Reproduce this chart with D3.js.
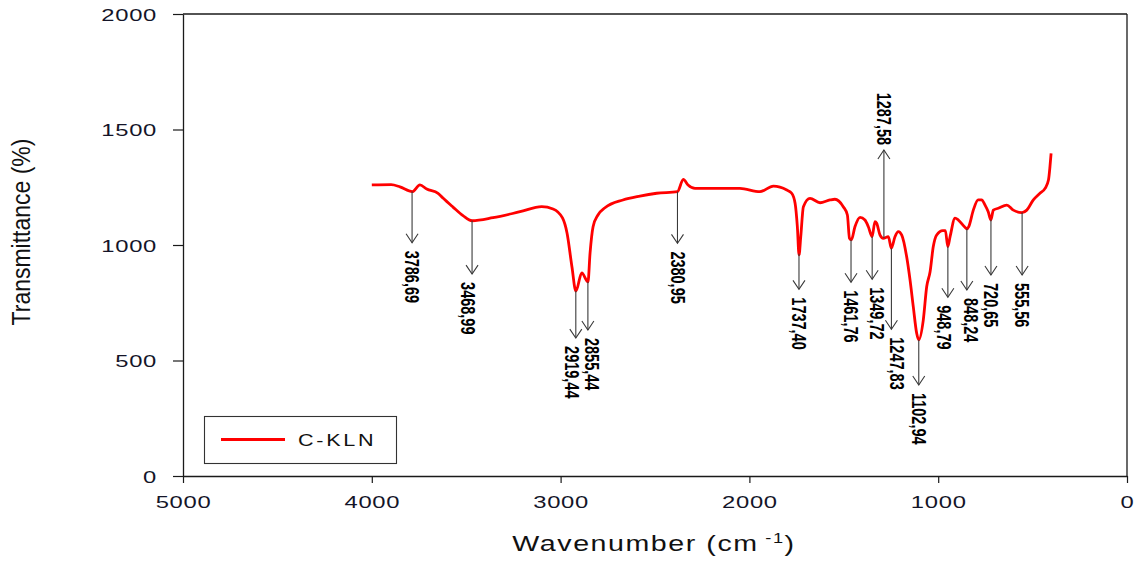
<!DOCTYPE html>
<html>
<head>
<meta charset="utf-8">
<script src="https://cdn.jsdelivr.net/npm/d3@7"></script>
<style>
  html, body { margin: 0; padding: 0; background: #fff; }
  svg { display: block; }
</style>
</head>
<body>
<svg id="chart" width="1144" height="563"></svg>
<script>
// FTIR spectrum of C-KLN: wavenumber (cm-1) and transmittance (%)
const wavenumbers = [
  4000, 3898, 3851, 3786, 3745, 3709, 3649, 3623, 3570, 3517, 3469, 3358, 3215, 3100,
  3040, 2990, 2966, 2940, 2919, 2888, 2855, 2844, 2828, 2802, 2765, 2670, 2580, 2491,
  2381, 2350, 2325, 2288, 2050, 1944, 1873, 1802, 1776, 1758, 1746, 1737, 1728, 1714,
  1679, 1626, 1573, 1547, 1503, 1481, 1470, 1460, 1441, 1414, 1388, 1370, 1350, 1335,
  1326, 1308, 1291, 1264, 1248, 1229, 1211, 1193, 1167, 1149, 1132, 1114, 1103, 1079,
  1061, 1043, 1026, 1008, 976, 962, 949, 937, 911, 893, 862, 848, 838, 814, 788, 770,
  752, 735, 721, 708, 682, 637, 602, 556, 531, 496, 461, 434, 416, 408, 402
];
const transmittance = [
  1260, 1261, 1252, 1231, 1260, 1242, 1224, 1203, 1164, 1127, 1105, 1118, 1144, 1166,
  1156, 1117, 1052, 906, 800, 879, 840, 965, 1079, 1130, 1161, 1195, 1212, 1224,
  1231, 1284, 1260, 1245, 1245, 1231, 1255, 1238, 1224, 1181, 1079, 957, 1036, 1166,
  1202, 1183, 1195, 1198, 1166, 1130, 1029, 1022, 1079, 1120, 1108, 1079, 1036, 1101,
  1094, 1043, 1029, 1036, 986, 1036, 1058, 1043, 949, 848, 733, 618, 589, 675,
  819, 884, 993, 1043, 1062, 1062, 993, 1036, 1116, 1108, 1080, 1070, 1080, 1151, 1195, 1195,
  1173, 1144, 1108, 1151, 1159, 1173, 1151, 1140, 1151, 1195, 1224, 1245, 1281, 1339, 1397
];

// Annotated absorption bands
const peakWavenumbers = [3786.69, 3468.99, 2919.44, 2855.44, 2380.95, 1737.40, 1461.76,
  1349.72, 1287.58, 1247.83, 1102.94, 948.79, 848.24, 720.65, 555.56];
const peakLabels = ["3786,69", "3468,99", "2919,44", "2855,44", "2380,95", "1737,40", "1461,76",
  "1349,72", "1287,58", "1247,83", "1102,94", "948,79", "848,24", "720,65", "555,56"];
// transmittance level at which each annotation arrow ends
const arrowTipValues = [1010, 874, 597, 632, 1007, 808, 839, 852, 1411, 635, 394, 774, 805, 870, 870];

const xTicks = [5000, 4000, 3000, 2000, 1000, 0];
const yTicks = [0, 500, 1000, 1500, 2000];
const seriesName = "C-KLN";

// ---- layout ----
const plot = { left: 183, right: 1127, top: 14, bottom: 476 };
// small sideways nudges that keep neighbouring labels apart
const labelShiftX = { 1: -4, 2: -4, 3: 4, 7: 5, 9: 5, 11: -4, 12: 4 };
const FONT = "'Liberation Sans', Arial, Helvetica, sans-serif";
const TEXT_STRETCH = 1.4;

const svg = d3.select("#chart");

const x = d3.scaleLinear().domain([5000, 0]).range([plot.left, plot.right]);
const y = d3.scaleLinear().domain([0, 2000]).range([plot.bottom, plot.top]);

// ---- axes ----
const axisColor = "#1a1a1a";

const yAxis = svg.append("g")
  .attr("transform", `translate(${plot.left},0)`)
  .call(d3.axisLeft(y).tickValues(yTicks).tickSize(10).tickSizeOuter(0).tickFormat(d3.format("d")));
yAxis.select(".domain").attr("stroke", axisColor).attr("stroke-width", 1.3);
yAxis.selectAll(".tick line").attr("stroke", axisColor).attr("stroke-width", 1.2);
yAxis.selectAll(".tick text")
  .attr("x", -26 / TEXT_STRETCH)
  .attr("dy", "0.36em")
  .attr("transform", `scale(${TEXT_STRETCH},1)`)
  .attr("fill", "#141428")
  .style("font-family", FONT)
  .style("font-size", "17px")
  .style("letter-spacing", "0.5px");

const xAxis = svg.append("g")
  .attr("transform", `translate(0,${plot.bottom})`)
  .call(d3.axisBottom(x).tickValues(xTicks).tickSize(7).tickSizeOuter(0).tickFormat(d3.format("d")));
xAxis.select(".domain").attr("stroke", axisColor).attr("stroke-width", 1.3);
xAxis.selectAll(".tick line").attr("stroke", axisColor).attr("stroke-width", 1.2);
xAxis.selectAll(".tick text")
  .attr("x", 0)
  .attr("y", 32)
  .attr("dy", 0)
  .attr("transform", `scale(${TEXT_STRETCH},1)`)
  .attr("fill", "#141428")
  .style("font-family", FONT)
  .style("font-size", "17px")
  .style("letter-spacing", "0.5px");

// frame: top and right edges
svg.append("line")
  .attr("x1", plot.left).attr("x2", plot.right)
  .attr("y1", plot.top).attr("y2", plot.top)
  .attr("stroke", axisColor).attr("stroke-width", 1.3);
svg.append("line")
  .attr("x1", plot.right).attr("x2", plot.right)
  .attr("y1", plot.top).attr("y2", plot.bottom)
  .attr("stroke", axisColor).attr("stroke-width", 1.3);

// ---- axis titles ----
const xTitle = svg.append("text")
  .attr("transform", `translate(654,551) scale(1.3,1)`)
  .attr("text-anchor", "middle")
  .attr("fill", "#111")
  .style("font-family", FONT)
  .style("font-size", "22px")
  .style("letter-spacing", "1.2px");
xTitle.append("tspan").text("Wavenumber (cm");
xTitle.append("tspan").attr("dy", -8).style("font-size", "14px").text(" -1");
xTitle.append("tspan").attr("dy", 8).text(")");

svg.append("text")
  .attr("transform", "translate(30,232) rotate(-90) scale(1,1.15)")
  .attr("text-anchor", "middle")
  .attr("fill", "#111")
  .style("font-family", FONT)
  .style("font-size", "23px")
  .text("Transmittance (%)");

// ---- spectrum ----
const spectrum = wavenumbers.map((w, i) => ({ w, t: transmittance[i] }));
const line = d3.line()
  .x(d => x(d.w))
  .y(d => y(d.t))
  .curve(d3.curveMonotoneX);

svg.append("path")
  .datum(spectrum)
  .attr("fill", "none")
  .attr("stroke", "#ff0000")
  .attr("stroke-width", 2.8)
  .attr("stroke-linejoin", "round")
  .attr("d", line);

// transmittance on the spectrum at a given wavenumber (linear between samples)
function valueAt(w) {
  for (let i = 0; i < wavenumbers.length - 1; i++) {
    const a = wavenumbers[i], b = wavenumbers[i + 1];
    if (w <= a && w >= b) {
      const f = (a - w) / (a - b);
      return transmittance[i] + f * (transmittance[i + 1] - transmittance[i]);
    }
  }
  return transmittance[transmittance.length - 1];
}

// ---- band annotations ----
const arrowColor = "#3a3a3a";
const ann = svg.append("g");
peakWavenumbers.forEach((w, i) => {
  const px = x(w);
  const y0 = y(valueAt(w));
  const y1 = y(arrowTipValues[i]);
  const down = y1 > y0;
  const dir = down ? 1 : -1;

  ann.append("line")
    .attr("x1", px).attr("x2", px)
    .attr("y1", y0).attr("y2", y1)
    .attr("stroke", arrowColor).attr("stroke-width", 1.1);
  ann.append("path")
    .attr("d", `M${px - 6},${y1 - 9 * dir} L${px},${y1} L${px + 6},${y1 - 9 * dir}`)
    .attr("fill", "none")
    .attr("stroke", arrowColor).attr("stroke-width", 1.1);

  const lx = px + (labelShiftX[i] || 0);
  const ly = down ? y1 + 8 : y1 - 5;
  ann.append("text")
    .attr("transform", `translate(${lx},${ly}) rotate(90) scale(1,1.4)`)
    .attr("text-anchor", down ? "start" : "end")
    .attr("dominant-baseline", "central")
    .attr("fill", "#000")
    .style("font-family", FONT)
    .style("font-weight", "bold")
    .style("font-size", "14.5px")
    .text(peakLabels[i]);
});

// ---- legend ----
const legend = svg.append("g");
legend.append("rect")
  .attr("x", 204.5).attr("y", 416.5)
  .attr("width", 192).attr("height", 47)
  .attr("fill", "#fff")
  .attr("stroke", "#333").attr("stroke-width", 1.1);
legend.append("line")
  .attr("x1", 221).attr("x2", 285)
  .attr("y1", 439.5).attr("y2", 439.5)
  .attr("stroke", "#ff0000").attr("stroke-width", 3);
legend.append("text")
  .attr("transform", "translate(298,446) scale(1.35,1)")
  .attr("fill", "#111")
  .style("font-family", FONT)
  .style("font-size", "16px")
  .style("letter-spacing", "2px")
  .text(seriesName);
</script>
</body>
</html>
